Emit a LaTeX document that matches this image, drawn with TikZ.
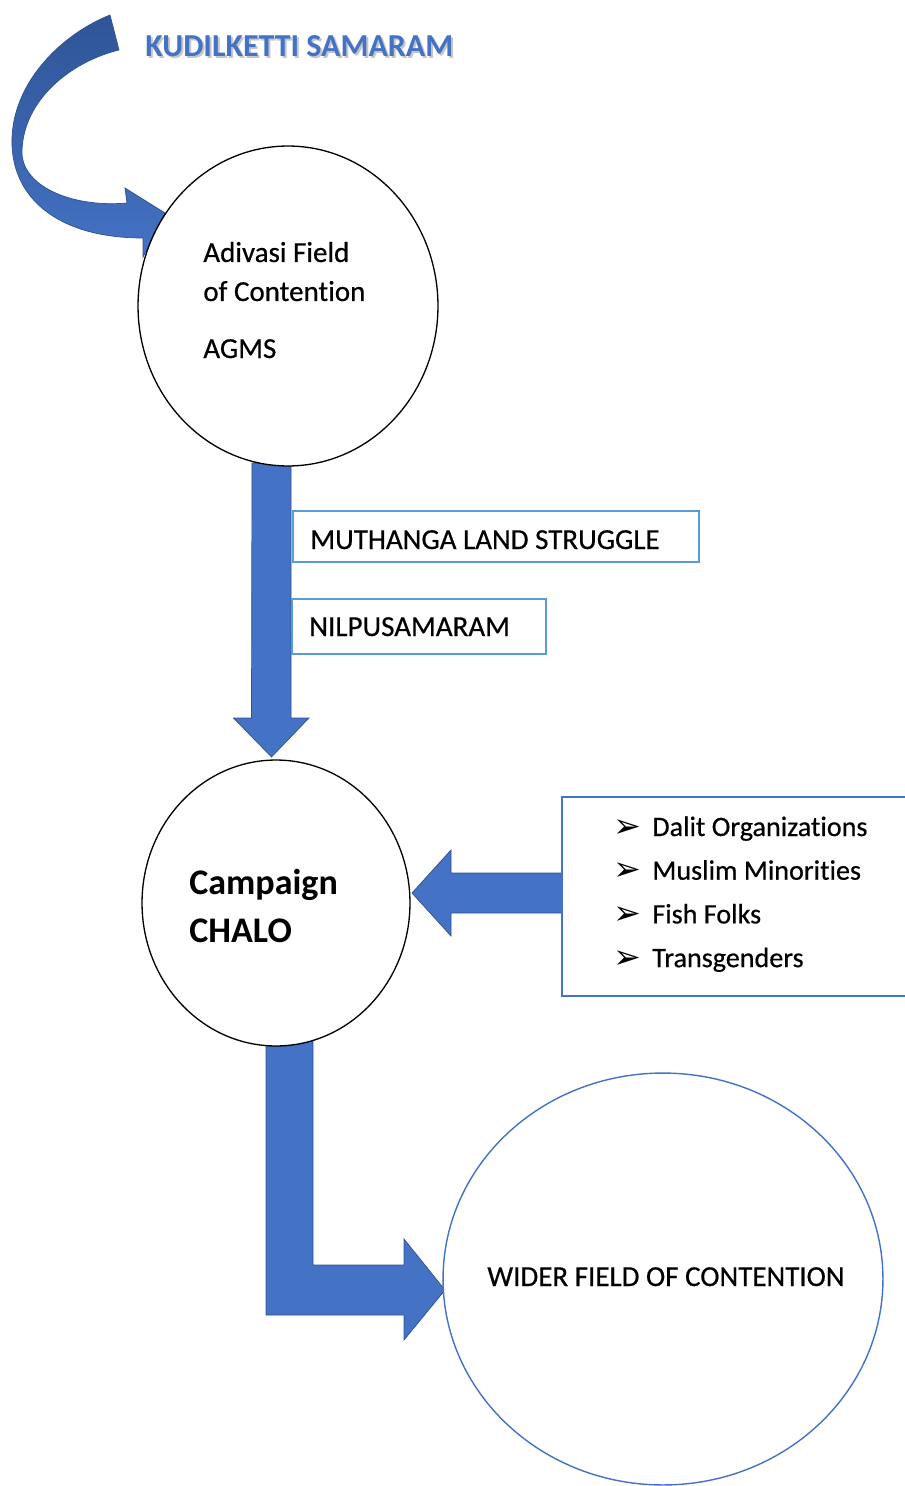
\documentclass[tikz,border=0pt]{standalone}
\usepackage{fontspec}
\setmainfont{Carlito}[Ligatures=NoCommon]
\newfontfamily\labelfont{Carlito}[Ligatures=NoCommon, FakeBold=0.5]
\newfontfamily\dingfont{DejaVu Sans}
\usetikzlibrary{shapes.geometric, calc}

\definecolor{wordblue}{HTML}{4472C4}
\definecolor{wordnavy}{HTML}{2F5597}
\definecolor{wordedge}{HTML}{2F528F}
\definecolor{boxblue}{HTML}{5B9BD5}

\tikzset{
  field/.style={ellipse, draw=black, line width=0.75pt, fill=white, inner sep=0pt},
  tag/.style={rectangle, draw=boxblue, line width=0.8pt, inner sep=0pt},
  blockarrow/.style={fill=wordblue, draw=wordedge, line width=0.4pt, line join=miter},
  lbl/.style={anchor=base west, inner sep=0pt, font=\labelfont\fontsize{16.5}{19.8}\selectfont},
  biglbl/.style={anchor=base west, inner sep=0pt, font=\fontsize{20.5}{24.6}\selectfont\bfseries},
  item/.style={anchor=base west, inner sep=0pt, font=\labelfont\fontsize{16}{19.2}\selectfont},
  tip/.style={anchor=base west, inner sep=0pt, font=\dingfont\fontsize{19}{22}\selectfont},
}

\begin{document}
\begin{tikzpicture}[x=0.02cm, y=-0.02cm]
\useasboundingbox (0,0) rectangle (904,1486);
\coordinate (d1) at (271.5,463);
\coordinate (d2) at (271.5,757);
\coordinate (l1) at (562,893);
\coordinate (l2) at (412,893);
\coordinate (c1) at (289.5,1038);
\coordinate (c2) at (445,1290);
\shade[top color=wordnavy, bottom color=wordblue, draw=wordedge, line width=0.4pt]
  (110,15) .. controls (60,35) and (10,85) .. (12,145)
  .. controls (14,200) and (60,238) .. (143,238) -- (143,257) -- (165,213) -- (125,188) -- (127,203)
  .. controls (70,208) and (20,185) .. (22,150) .. controls (24,100) and (70,62) .. (119,50) -- cycle;
\filldraw[blockarrow] (d1) ++(-19.5,0) -- ++(39,0) -- ($(d2)+(19.5,-39)$) -- ++(18,0) -- (d2) -- ++(-38,-39) -- ++(18,0) -- cycle;
\filldraw[blockarrow] (l1) ++(0,-20) -- ($(l2)+(39,-20)$) -- ++(0,-23) -- (l2) -- ++(39,43) -- ++(0,-23) -- ($(l1)+(0,20)$) -- cycle;
\filldraw[blockarrow] (c1) ++(-23.5,0) -- ++(47,0) -- ($(c2)+(-132,-25)$) -- ++(91,0) -- ++(0,-26) -- (c2) -- ++(-41,50) -- ++(0,-25) -- ($(c1)+(-23.5,277)$) -- cycle;
\node[field, minimum width=6cm, minimum height=6.4cm] (adivasi) at (288,306) {};
\node[field, minimum width=5.36cm, minimum height=5.72cm] (chalo) at (276,903) {};
\node[field, draw=wordblue, line width=0.8pt, minimum width=8.8cm, minimum height=8.24cm] (wider) at (663,1279) {};
\node[tag, minimum width=8.12cm, minimum height=1.02cm] (muthanga) at (496,536.5) {};
\node[tag, minimum width=5.08cm, minimum height=1.1cm] (nilpu) at (419,626.5) {};
\node[tag, draw=wordblue, minimum width=6.96cm, minimum height=3.98cm] (groups) at (736,896.5) {};
\node[lbl, font=\fontsize{18.2}{21.8}\selectfont\bfseries, text=gray, opacity=0.45] (titleshadow) at (147,59) {KUDILKETTI SAMARAM};
\node[lbl, font=\fontsize{18.2}{21.8}\selectfont\bfseries, text=wordblue] (title) at (145,57) {KUDILKETTI SAMARAM};
\node[lbl] (adv1) at (203,262) {Adivasi Field};
\node[lbl] (adv2) at (203,301) {of Contention};
\node[lbl] (adv3) at (203,358) {AGMS};
\node[biglbl] (camp1) at (189,894) {Campaign};
\node[biglbl] (camp2) at (189,942) {CHALO};
\node[lbl] (muthangatxt) at (310,549) {MUTHANGA LAND STRUGGLE};
\node[lbl] (nilputxt) at (309,636) {NILPUSAMARAM};
\node[lbl] (widertxt) at (487,1286) {WIDER FIELD OF CONTENTION};
\foreach \g [count=\i] in {Dalit Organizations, Muslim Minorities, Fish Folks, Transgenders} {
  \node[tip] (bul\i) at (613,{837+43.7*(\i-1)}) {➢};
  \node[item] (grp\i) at (652,{836+43.7*(\i-1)}) {\g};
}
\end{tikzpicture}
\end{document}
